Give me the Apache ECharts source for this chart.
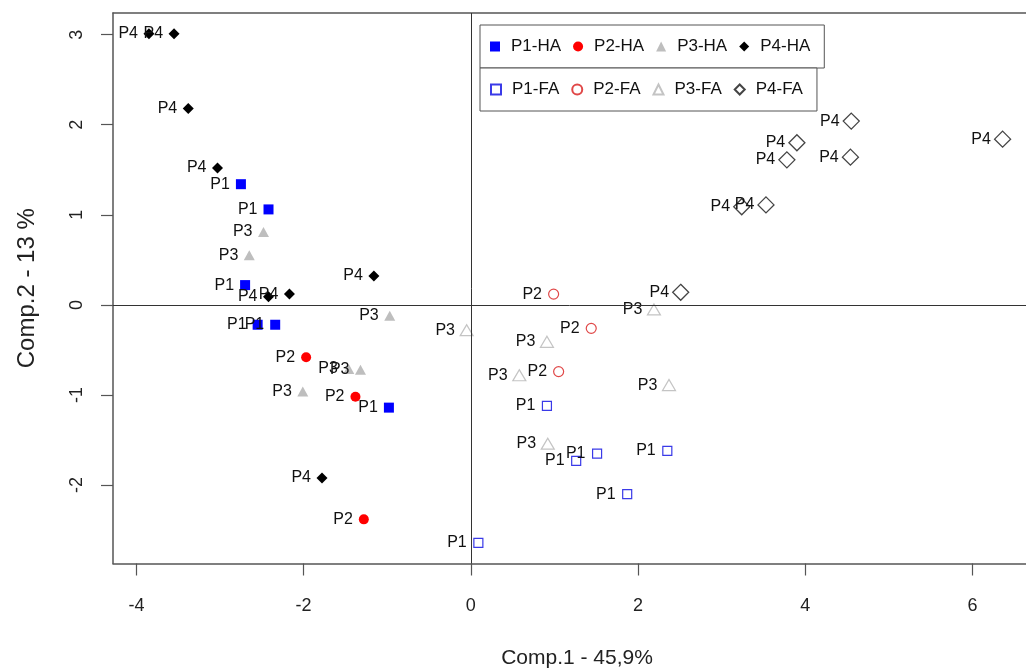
<!DOCTYPE html>
<html>
<head>
<meta charset="utf-8">
<script src="https://cdn.jsdelivr.net/npm/echarts@6/dist/echarts.min.js"></script>
<style>
html,body{margin:0;padding:0;background:#fff;}
#chart{width:1026px;height:671px;}
</style>
</head>
<body>
<div id="chart"></div>
<script>
// ---- data ----
const p1HA = [[-2.75,1.34],[-2.42,1.06],[-2.70,0.22],[-2.55,-0.22],[-2.34,-0.22],[-0.98,-1.14]];
const p2HA = [[-1.97,-0.58],[-1.38,-1.02],[-1.28,-2.38]];
const p3HA = [[-2.48,0.81],[-2.65,0.55],[-0.97,-0.12],[-1.46,-0.71],[-1.32,-0.72],[-2.01,-0.96]];
const p4HA = [[-3.85,3.01],[-3.55,3.01],[-3.38,2.18],[-3.03,1.52],[-1.16,0.32],[-2.42,0.09],[-2.17,0.12],[-1.78,-1.92]];
const p1FA = [[0.91,-1.12],[1.26,-1.73],[1.51,-1.65],[2.35,-1.62],[1.87,-2.10],[0.09,-2.64]];
const p2FA = [[0.99,0.12],[1.44,-0.26],[1.05,-0.74]];
const p3FA = [[-0.05,-0.28],[0.91,-0.41],[0.58,-0.78],[2.19,-0.05],[2.37,-0.89],[0.92,-1.54]];
const p4FA = [[2.51,0.14],[4.55,2.04],[3.90,1.80],[3.78,1.61],[4.54,1.64],[6.36,1.84],[3.24,1.09],[3.53,1.11]];
const xTicks = [-4,-2,0,2,4,6];
const yTicks = [-2,-1,0,1,2,3];
const haNames = ['P1-HA','P2-HA','P3-HA','P4-HA'];
const faNames = ['P1-FA','P2-FA','P3-FA','P4-FA'];
const xTitle = 'Comp.1 - 45,9%';
const yTitle = 'Comp.2 - 13 %';

const FONT = '"Liberation Sans", Arial, sans-serif';
const FRAME = '#555';

function mk(name, data, tag, symbol, size, fill, stroke, bw) {
  const half = Array.isArray(size) ? size[0]/2 : size/2;
  return {
    name: name,
    type: 'scatter',
    xAxisIndex: 0, yAxisIndex: 0,
    data: data,
    symbol: symbol,
    symbolSize: size,
    itemStyle: { color: fill, borderColor: stroke, borderWidth: bw, opacity: 1 },
    label: {
      show: true, position: 'left', formatter: tag,
      distance: Math.max(1, 11 - half),
      color: '#111', fontSize: 16, fontFamily: FONT
    },
    emphasis: { disabled: true },
    animation: false
  };
}

const series = [
  mk('P1-FA', p1FA, 'P1', 'rect', 9, 'rgba(255,255,255,0)', '#3a3ae8', 1.2),
  mk('P2-FA', p2FA, 'P2', 'circle', 10, 'rgba(255,255,255,0)', '#e04848', 1.2),
  mk('P3-FA', p3FA, 'P3', 'triangle', [13,11], 'rgba(255,255,255,0)', '#c4c4c4', 1.2),
  mk('P4-FA', p4FA, 'P4', 'diamond', 16, 'rgba(255,255,255,0)', '#444', 1.3),
  mk('P1-HA', p1HA, 'P1', 'rect', 10, '#0000ff', '#0000ff', 0),
  mk('P2-HA', p2HA, 'P2', 'circle', 10, '#ff0000', '#ff0000', 0),
  mk('P3-HA', p3HA, 'P3', 'triangle', [11,10], '#bebebe', '#bebebe', 0),
  mk('P4-HA', p4HA, 'P4', 'diamond', 11, '#000000', '#000000', 0)
];
series[0].markLine = {
  silent: true, symbol: 'none', animation: false,
  label: { show: false },
  lineStyle: { color: '#333', width: 1, type: 'solid' },
  data: [{ yAxis: 0 }, { xAxis: 0 }]
};

const legendCommon = {
  left: 480, orient: 'horizontal',
  itemWidth: 10, itemHeight: 10, itemGap: 12,
  borderColor: FRAME, borderWidth: 1, borderRadius: 0,
  backgroundColor: '#fff',
  padding: [13, 14, 13, 10],
  selectedMode: false,
  textStyle: { fontSize: 17, color: '#111', fontFamily: FONT, padding: [0,0,0,6] }
};

const XMIN = -4.28, XMAX = 6.64;   // plot runs off the right edge of the picture
const YMIN = -2.87, YMAX = 3.24;

const option = {
  backgroundColor: '#fff',
  animation: false,
  grid: {
    left: 113, top: 13, bottom: 107.5, right: 0,
    show: false,
    outerBoundsMode: 'none',
    containLabel: false
  },
  legend: [
    Object.assign({}, legendCommon, { top: 25, data: haNames }),
    Object.assign({}, legendCommon, { top: 68, data: faNames })
  ],
  xAxis: [{
    type: 'value', min: XMIN, max: XMAX, position: 'bottom',
    name: xTitle, nameLocation: 'middle', nameGap: 84,
    nameTextStyle: { fontSize: 21, color: '#222', fontFamily: FONT, padding: [0,0,0,15] },
    axisLine: { show: true, onZero: false, lineStyle: { color: FRAME, width: 1.5 } },
    axisTick: { show: true, length: 12, customValues: xTicks, lineStyle: { color: FRAME, width: 1.2 } },
    axisLabel: { customValues: xTicks, fontSize: 18, color: '#222', margin: 34, fontFamily: FONT },
    splitLine: { show: false }
  }, {
    type: 'value', min: XMIN, max: XMAX, position: 'top',
    axisLine: { show: true, onZero: false, lineStyle: { color: FRAME, width: 1.5 } },
    axisTick: { show: false }, axisLabel: { show: false }, splitLine: { show: false }
  }],
  yAxis: {
    type: 'value', min: YMIN, max: YMAX, position: 'left',
    name: yTitle, nameLocation: 'middle', nameGap: 74, nameRotate: 90,
    nameTextStyle: { fontSize: 24, color: '#222', fontFamily: FONT },
    axisLine: { show: true, onZero: false, lineStyle: { color: FRAME, width: 1.5 } },
    axisTick: { show: true, length: 12, customValues: yTicks, lineStyle: { color: FRAME, width: 1.2 } },
    axisLabel: { customValues: yTicks, rotate: 90, fontSize: 18, color: '#222', margin: 27, fontFamily: FONT },
    splitLine: { show: false }
  },
  series: series
};

const chart = echarts.init(document.getElementById('chart'), null, { renderer: 'canvas' });
chart.setOption(option);
</script>
</body>
</html>
